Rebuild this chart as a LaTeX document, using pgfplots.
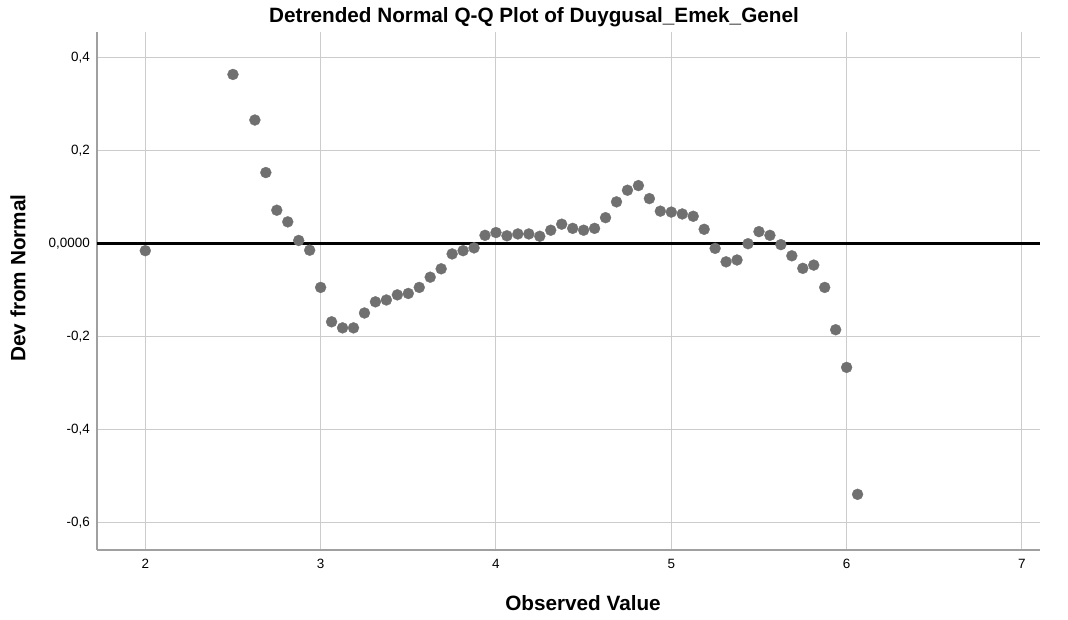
\documentclass[border=0pt]{standalone}
\usepackage{fontspec}
\setmainfont{Liberation Sans}
\usepackage{pgfplots}
\pgfplotsset{compat=1.18}
\definecolor{dotc}{RGB}{112,112,112}
\definecolor{gridc}{RGB}{204,204,204}
\definecolor{axc}{RGB}{160,160,160}
\pgfplotstableread{
x y
2.0 -0.015
2.5 0.364
2.625 0.266
2.6875 0.153
2.75 0.072
2.8125 0.047
2.875 0.007
2.9375 -0.014
3.0 -0.094
3.0625 -0.168
3.125 -0.181
3.1875 -0.181
3.25 -0.149
3.3125 -0.125
3.375 -0.121
3.4375 -0.110
3.5 -0.107
3.5625 -0.094
3.625 -0.072
3.6875 -0.054
3.75 -0.022
3.8125 -0.015
3.875 -0.009
3.9375 0.018
4.0 0.024
4.0625 0.017
4.125 0.021
4.1875 0.021
4.25 0.016
4.3125 0.029
4.375 0.042
4.4375 0.033
4.5 0.029
4.5625 0.033
4.625 0.056
4.6875 0.090
4.75 0.115
4.8125 0.125
4.875 0.097
4.9375 0.070
5.0 0.068
5.0625 0.064
5.125 0.059
5.1875 0.031
5.25 -0.010
5.3125 -0.039
5.375 -0.035
5.4375 0.000
5.5 0.026
5.5625 0.018
5.625 -0.002
5.6875 -0.026
5.75 -0.053
5.8125 -0.046
5.875 -0.094
5.9375 -0.185
6.0 -0.266
6.0625 -0.539
}\qqdata
\begin{document}
\begin{tikzpicture}
\path (-97bp,-70bp) rectangle (971bp,550bp);
\begin{axis}[
  at={(0,0)}, anchor=south west,
  scale only axis, width=943bp, height=518bp,
  xmin=1.7245, xmax=7.103,
  ymin=-0.6587, ymax=0.4553,
  axis x line*=bottom, axis y line*=left,
  axis line style={axc, line width=1.5bp, -},
  grid=major,
  major grid style={gridc, line width=1bp},
  major tick length=0pt,
  xtick={2,3,4,5,6,7},
  ytick={-0.6,-0.4,-0.2,0,0.2,0.4},
  yticklabels={{-0,6},{-0,4},{-0,2},{0,0000},{0,2},{0,4}},
  /pgf/number format/assume math mode=true,
  xticklabel style={font=\fontsize{13.5}{15}\selectfont, inner sep=0pt, anchor=north, yshift=-9bp},
  yticklabel style={font=\fontsize{13.5}{15}\selectfont, inner sep=0pt, anchor=east, xshift=-7bp},
  clip=false,
]
\addplot[dotc, only marks, mark=*, mark size=5.5bp, mark options={draw=dotc, fill=dotc, line width=0.3bp}] table[x=x,y=y]{\qqdata};
\addplot[black, line width=3bp] coordinates {(1.7245,0) (7.103,0)};
\end{axis}
\node[font=\fontsize{20.8}{22}\selectfont\bfseries] at (437bp,532.5bp) {Detrended Normal Q-Q Plot of Duygusal\_Emek\_Genel};
\node[font=\fontsize{20.8}{22}\selectfont\bfseries] at (486bp,-53.5bp) {Observed Value};
\node[font=\fontsize{20.8}{22}\selectfont\bfseries, rotate=90] at (-79bp,272bp) {Dev from Normal};
\end{tikzpicture}
\end{document}
